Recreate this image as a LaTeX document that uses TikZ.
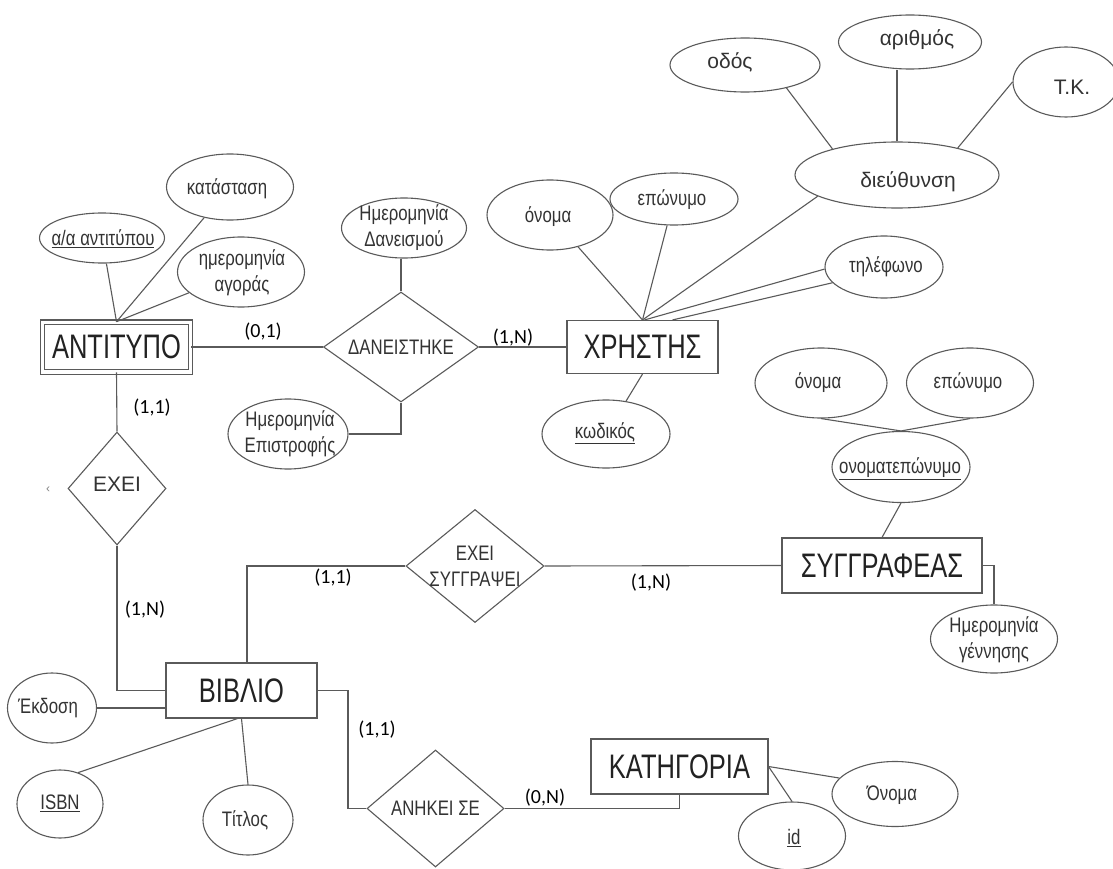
\documentclass[tikz,border=0pt]{standalone}
\usepackage{fontspec}
\setmainfont{Liberation Sans}
\newfontfamily\narrowf[FakeStretch=0.80]{Liberation Sans}
\newfontfamily\entf[FakeStretch=0.75]{Liberation Sans}
\newfontfamily\regf{Liberation Sans}
\newfontfamily\cardf{Carlito}
\usetikzlibrary{shapes.geometric}
\definecolor{linec}{HTML}{5A5A5A}
\definecolor{txtc}{HTML}{333333}
\definecolor{entc}{HTML}{222222}
\begin{document}
\begin{tikzpicture}[x=1pt,y=-1pt,
  conn/.style={draw=linec, line width=1.1pt},
  ell/.style={ellipse, draw=linec, line width=1.1pt, inner sep=0pt},
  ent/.style={rectangle, draw=linec, line width=1.1pt, inner sep=0pt, text=entc, font=\entf\fontsize{34}{36}\selectfont},
  rel/.style={diamond, draw=linec, line width=1.1pt, inner sep=0pt},
  atx/.style={text=txtc, font=\narrowf\fontsize{21}{26}\selectfont, align=center, inner sep=0pt},
  atr/.style={text=txtc, font=\regf\fontsize{21}{26}\selectfont, inner sep=0pt},
  card/.style={text=black, font=\cardf\fontsize{20}{24}\selectfont, inner sep=0pt}]
\fill[white] (0,0) rectangle (1113,869);
\useasboundingbox (0,0) rectangle (1113,869);

% ---------- entities ----------
\node[ent, double=white, double distance=3.5pt, minimum width=148pt, minimum height=49.5pt] (ant) at (116.5,347) {ΑΝΤΙΤΥΠΟ};
\node[ent, minimum width=151pt, minimum height=53pt] (xr) at (642.5,347) {ΧΡΗΣΤΗΣ};
\node[ent, minimum width=200pt, minimum height=55pt] (syg) at (882,565.5) {ΣΥΓΓΡΑΦΕΑΣ};
\node[ent, minimum width=151pt, minimum height=55pt] (bib) at (241.5,690.5) {ΒΙΒΛΙΟ};
\node[ent, minimum width=177pt, minimum height=55pt] (katg) at (679.5,766.5) {ΚΑΤΗΓΟΡΙΑ};

% ---------- relationships ----------
\node[rel, minimum width=155pt, minimum height=110pt] (dan) at (401,347) {};
\node[atx] (dan-t) at (dan) {ΔΑΝΕΙΣΤΗΚΕ};
\node[rel, minimum width=98pt, minimum height=113pt] (exei) at (117,488.5) {};
\node[atr] (exei-t) at (117,484) {ΕΧΕΙ};
\node[rel, minimum width=138pt, minimum height=113pt] (es) at (475,566) {};
\node[atx] (es-t) at (es) {ΕΧΕΙ\\ΣΥΓΓΡΑΨΕΙ};
\node[rel, minimum width=137pt, minimum height=117pt] (anh) at (435.5,808.5) {};
\node[atx] (anh-t) at (anh) {ΑΝΗΚΕΙ ΣΕ};

% ---------- attributes ----------
\node[ell, minimum width=125pt, minimum height=50pt] (aa) at (102,238) {};
\node[atx] (aa-t) at (103,239) {\underline{α/α αντιτύπου}};
\node[ell, minimum width=127pt, minimum height=66pt] (kat) at (230,187) {};
\node[atx] (kat-t) at (227,189) {κατάσταση};
\node[ell, minimum width=127pt, minimum height=70pt] (agor) at (241,272) {};
\node[atx] (agor-t) at (242,273) {ημερομηνία\\αγοράς};
\node[ell, minimum width=125pt, minimum height=60pt] (dd) at (404,228) {};
\node[atx] (dd-t) at (404,228) {Ημερομηνία\\Δανεισμού};
\node[ell, minimum width=120pt, minimum height=70pt] (de) at (288,434) {};
\node[atx] (de-t) at (290,434) {Ημερομηνία\\Επιστροφής};
\node[ell, minimum width=126pt, minimum height=70pt] (on1) at (550,215) {};
\node[atx] (on1-t) at (548,217) {όνομα};
\node[ell, minimum width=128pt, minimum height=52pt] (ep1) at (674,199) {};
\node[atx] (ep1-t) at (672,200) {επώνυμο};
\node[ell, minimum width=204pt, minimum height=66pt] (dieu) at (897,175) {};
\node[atr] (dieu-t) at (908,182) {διεύθυνση};
\node[ell, minimum width=150pt, minimum height=54pt] (odos) at (745,65) {};
\node[atr] (odos-t) at (730,62) {οδός};
\node[ell, minimum width=143pt, minimum height=54pt] (arith) at (910,42) {};
\node[atr] (arith-t) at (917,40) {αριθμός};
\node[ell, minimum width=106pt, minimum height=70pt] (tk) at (1066,82) {};
\node[atr] (tk-t) at (1072,87) {Τ.Κ.};
\node[ell, minimum width=118pt, minimum height=62pt] (tel) at (884,267) {};
\node[atx] (tel-t) at (886,267) {τηλέφωνο};
\node[ell, minimum width=128pt, minimum height=68pt] (kod) at (606,434) {};
\node[atx] (kod-t) at (605,433) {\underline{κωδικός}};
\node[ell, minimum width=132pt, minimum height=70pt] (au1) at (821,383) {};
\node[atx] (au1-t) at (818,383) {όνομα};
\node[ell, minimum width=127pt, minimum height=70pt] (au2) at (970,383) {};
\node[atx] (au2-t) at (968,383) {επώνυμο};
\node[ell, minimum width=138pt, minimum height=71pt] (onep) at (901,467) {};
\node[atx] (onep-t) at (900,469) {\underline{ονοματεπώνυμο}};
\node[ell, minimum width=127pt, minimum height=68pt] (hg) at (994,639) {};
\node[atx] (hg-t) at (994,640) {Ημερομηνία\\γέννησης};
\node[ell, minimum width=89pt, minimum height=70pt] (ekd) at (52,708) {};
\node[atx] (ekd-t) at (48,708) {Έκδοση};
\node[ell, minimum width=86pt, minimum height=68pt] (isbn) at (60,804) {};
\node[atx] (isbn-t) at (60,803) {\underline{ISBN}};
\node[ell, minimum width=90pt, minimum height=70pt] (tit) at (248,820) {};
\node[atx] (tit-t) at (245,820) {Τίτλος};
\node[ell, minimum width=126pt, minimum height=65pt] (onk) at (895,794) {};
\node[atx] (onk-t) at (892,795) {Όνομα};
\node[ell, minimum width=107pt, minimum height=68pt] (idn) at (792,836) {};
\node[atx] (idn-t) at (794,838) {\underline{id}};

% stray mark
\node[text=gray, font=\regf\fontsize{12}{14}\selectfont, inner sep=0pt] (stray) at (48,490) {‹};

% ---------- connectors ----------
\draw[conn] (ant.north) -- (aa);
\draw[conn] (ant.north) -- (kat);
\draw[conn] (ant.north) -- (agor);
\draw[conn] (ant.east) -- (dan.west);
\draw[conn] (dan.north) -- (dan.north |- dd.south);
\draw[conn] (de.east) -| (dan.south);
\draw[conn] (dan.east) -- (xr.west);
\draw[conn] (xr.north) -- (on1);
\draw[conn] (xr.north) -- (ep1);
\draw[conn] (xr.north) -- (dieu.195);
\draw[conn] ([xshift=2pt]xr.north) -- (tel.182);
\draw[conn] ([xshift=30pt]xr.north) -- (tel.197);
\draw[conn] (xr.south) -- (kod);
\draw[conn] (dieu.158) -- (odos.-29);
\draw[conn] (dieu.north) -- (dieu.north |- arith.south);
\draw[conn] (dieu.24) -- (tk.west);
\draw[conn] (au1.south) -- (onep.north);
\draw[conn] (au2.south) -- (onep.north);
\draw[conn] (onep.south) -- (syg.north);
\draw[conn] (syg.east) -| (hg.north);
\draw[conn] (es.east) -- (syg.west);
\draw[conn] (es.west) -| ([xshift=5.5pt]bib.north);
\draw[conn] (ant.south) -- (exei.north);
\draw[conn] (exei.south) |- (bib.west);
\draw[conn] (ekd.east) -- (ekd.east -| bib.west);
\draw[conn] (isbn.60) -- ([xshift=-4pt]bib.south);
\draw[conn] (bib.south) -- (tit.north);
\coordinate (bk) at (348,808.5);
\draw[conn] (bib.east) -| (bk) -- (anh.west);
\draw[conn] (anh.east) -| (katg.south);
\draw[conn] (katg.east) -- (onk.164);
\draw[conn] (katg.east) -- (idn.north);

% ---------- cardinalities ----------
\node[card] (c1) at (263,332) {(0,1)};
\node[card] (c2) at (513,338) {(1,N)};
\node[card] (c3) at (152,408) {(1,1)};
\node[card] (c4) at (145,610) {(1,N)};
\node[card] (c5) at (333,578) {(1,1)};
\node[card] (c6) at (651,583) {(1,N)};
\node[card] (c7) at (377,730) {(1,1)};
\node[card] (c8) at (545,798) {(0,N)};
\end{tikzpicture}
\end{document}
